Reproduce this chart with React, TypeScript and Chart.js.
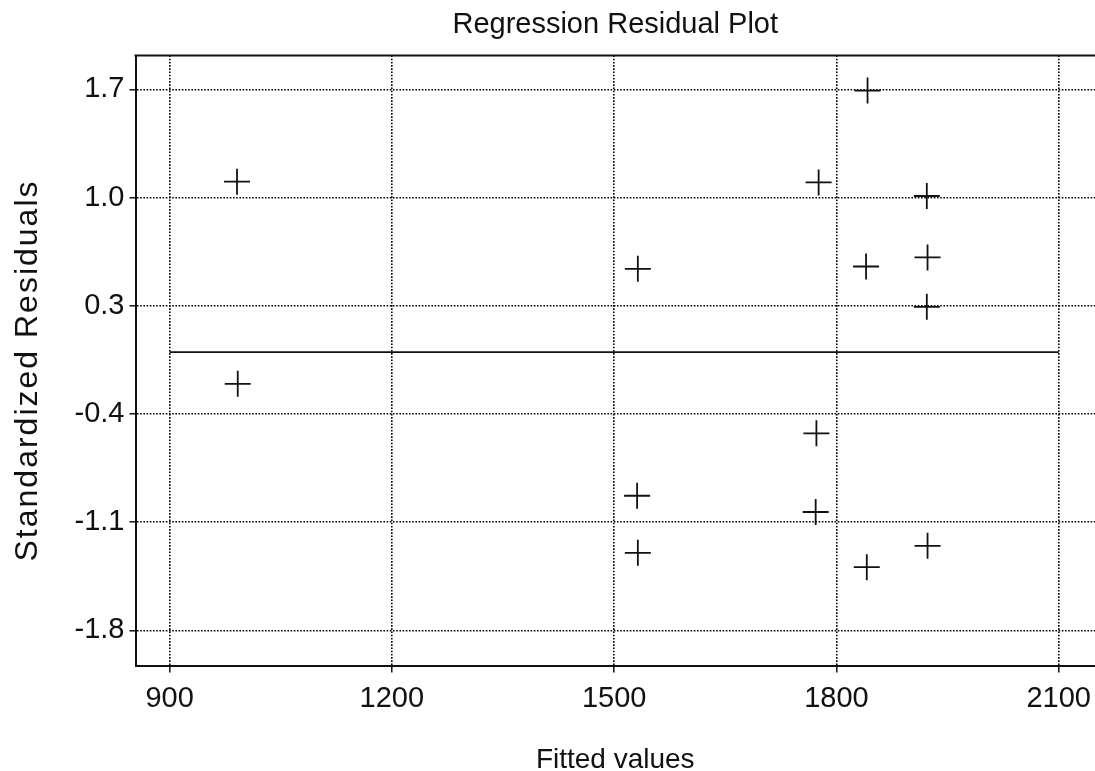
import React, { useEffect, useRef } from 'react';
import { Chart, registerables } from 'chart.js';

Chart.register(...registerables);

const TITLE = 'Regression Residual Plot';
const X_TITLE = 'Fitted values';
const Y_TITLE = 'Standardized Residuals';

const xTicks = [900, 1200, 1500, 1800, 2100];
const xTickLabels = ['900', '1200', '1500', '1800', '2100'];
const yTicks = [-1.8, -1.1, -0.4, 0.3, 1.0, 1.7];
const yTickLabels = ['-1.8', '-1.1', '-0.4', '0.3', '1.0', '1.7'];

const fittedValues = [991, 992, 1532, 1531, 1532, 1776, 1773, 1772, 1842, 1840, 1841, 1922, 1923, 1922, 1923];
const standardizedResiduals = [1.103, -0.205, 0.539, -0.929, -1.298, 1.098, -0.525, -1.034, 1.692, 0.554, -1.391, 1.01, 0.613, 0.293, -1.253];

const refLineX = [900, 2100];
const refLineY = [0, 0];

const X_MIN = 854;
const X_MAX = 2149;
const Y_MIN = -2.027;
const Y_MAX = 1.919;

const FONT = '"Liberation Sans", Arial, sans-serif';
const INK = '#111';

const frameTopPlugin = {
  id: 'frameTop',
  afterDatasetsDraw(chart: any) {
    const { ctx, chartArea } = chart;
    ctx.save();
    ctx.strokeStyle = INK;
    ctx.lineWidth = 2;
    ctx.beginPath();
    ctx.moveTo(chartArea.left - 1, chartArea.top);
    ctx.lineTo(chartArea.right, chartArea.top);
    ctx.stroke();
    ctx.restore();
  },
};

const yTitlePlugin = {
  id: 'yTitle',
  afterDraw(chart: any) {
    const { ctx, chartArea } = chart;
    ctx.save();
    ctx.font = `32px ${FONT}`;
    ctx.fillStyle = INK;
    try {
      (ctx as any).letterSpacing = '2px';
    } catch (e) {}
    ctx.translate(37, (chartArea.top + chartArea.bottom) / 2 + 10);
    ctx.rotate(-Math.PI / 2);
    ctx.textAlign = 'center';
    ctx.textBaseline = 'alphabetic';
    ctx.fillText(Y_TITLE, 0, 0);
    ctx.restore();
  },
};

export default function App() {
  const ref = useRef<HTMLCanvasElement | null>(null);

  useEffect(() => {
    if (!ref.current) return;
    const points = fittedValues.map((x, i) => ({ x, y: standardizedResiduals[i] }));
    const line = refLineX.map((x, i) => ({ x, y: refLineY[i] }));

    const chart = new Chart(ref.current, {
      type: 'scatter',
      data: {
        datasets: [
          {
            type: 'line',
            label: 'zero',
            data: line,
            borderColor: INK,
            borderWidth: 1.6,
            pointRadius: 0,
            showLine: true,
            fill: false,
          } as any,
          {
            label: 'Residuals',
            data: points,
            pointStyle: 'cross',
            pointRadius: 13,
            pointHoverRadius: 13,
            borderColor: INK,
            backgroundColor: INK,
            pointBorderWidth: 1.8,
            borderWidth: 1.8,
          } as any,
        ],
      },
      options: {
        responsive: false,
        animation: false,
        devicePixelRatio: 1,
        layout: { padding: 0, autoPadding: false } as any,
        plugins: {
          legend: { display: false },
          tooltip: { enabled: false },
          title: {
            display: true,
            text: TITLE,
            fullSize: false,
            color: INK,
            font: { family: FONT, size: 29, weight: 'normal', lineHeight: 1.2 },
            padding: { top: 7.6, bottom: 13.1 },
          } as any,
        },
        scales: {
          x: {
            type: 'linear',
            min: X_MIN,
            max: X_MAX,
            afterBuildTicks: (s: any) => {
              s.ticks = xTicks.map((v) => ({ value: v }));
            },
            afterFit: (s: any) => {
              s.height = 105.5;
              s.paddingLeft = 0;
              s.paddingRight = 0;
            },
            ticks: {
              color: INK,
              font: { family: FONT, size: 29 },
              padding: 9,
              maxRotation: 0,
              autoSkip: false,
              callback: (_v: any, i: number) => xTickLabels[i],
            },
            grid: {
              color: '#000',
              lineWidth: 1.6,
              tickLength: 7,
              tickColor: INK,
              tickWidth: 1.5,
              tickBorderDash: [],
            } as any,
            border: { display: true, color: INK, width: 2, dash: [1.6, 1.6] } as any,
            title: {
              display: true,
              text: X_TITLE,
              color: INK,
              font: { family: FONT, size: 28, lineHeight: 0.5 },
              padding: { top: 0, bottom: 3.7 },
            },
          },
          y: {
            type: 'linear',
            min: Y_MIN,
            max: Y_MAX,
            afterBuildTicks: (s: any) => {
              s.ticks = yTicks.map((v) => ({ value: v }));
            },
            afterFit: (s: any) => {
              s.width = 135.5;
              s.paddingTop = 0;
              s.paddingBottom = 0;
            },
            ticks: {
              color: INK,
              font: { family: FONT, size: 29 },
              padding: 5,
              autoSkip: false,
              callback: (_v: any, i: number) => yTickLabels[i],
            },
            grid: {
              color: '#000',
              lineWidth: 1.6,
              tickLength: 6,
              tickColor: INK,
              tickWidth: 1.5,
              tickBorderDash: [],
            } as any,
            border: { display: true, color: INK, width: 2, dash: [1.6, 1.6] } as any,
          },
        },
      },
      plugins: [frameTopPlugin, yTitlePlugin],
    });

    return () => chart.destroy();
  }, []);

  return (
    <div style={{ position: 'fixed', left: 0, top: 0, width: 1095, height: 771, background: '#fff' }}>
      <canvas ref={ref} width={1095} height={771} />
    </div>
  );
}
